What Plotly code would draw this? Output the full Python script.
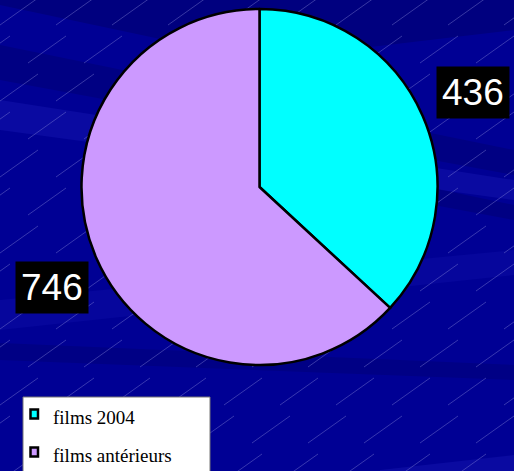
import plotly.graph_objects as go

categories = ["films 2004", "films antérieurs"]
values = [436, 746]
slice_colors = ["#00FFFF", "#CC99FF"]

W, H = 514, 471

fig = go.Figure()
fig.add_trace(go.Pie(
    labels=categories,
    values=values,
    sort=False,
    direction="clockwise",
    rotation=0,
    textinfo="none",
    hoverinfo="label+value",
    marker=dict(colors=slice_colors, line=dict(color="black", width=2.5)),
    domain=dict(x=[81 / W, 438 / W], y=[1 - 365 / H, 1 - 9 / H]),
    showlegend=False,
))

# value labels (black boxes, white text)
label_pos = [(472.5, 93), (51.5, 287.5)]
for v, (x, y) in zip(values, label_pos):
    fig.add_annotation(
        x=x / W, y=1 - y / H, xref="paper", yref="paper",
        xanchor="center", yanchor="middle",
        text=str(v), showarrow=False,
        font=dict(family="Liberation Sans, Arial", size=37, color="white"),
        bgcolor="black", borderpad=5,
    )

# ---- decorative background bands ----
bands = [
    ("M0,0 L514,0 L514,30 L260,60 L0,5 Z", "rgba(0,0,110,0.55)"),
    ("M0,45 L514,150 L514,175 L0,80 Z", "rgba(0,0,110,0.45)"),
    ("M0,100 L514,180 L514,200 L0,130 Z", "rgba(40,40,200,0.25)"),
    ("M300,160 L514,205 L514,220 L300,180 Z", "rgba(0,0,110,0.45)"),
    ("M0,300 L514,250 L514,275 L0,330 Z", "rgba(40,40,200,0.15)"),
    ("M0,343 L514,365 L514,380 L0,360 Z", "rgba(0,0,110,0.4)"),
    ("M380,470 L514,455 L514,471 L380,471 Z", "rgba(40,40,200,0.25)"),
]
for path, col in bands:
    fig.add_shape(type="path", path=path, xref="x", yref="y",
                  fillcolor=col, line=dict(width=0), layer="below")

# faint diagonal dashes
for r in range(0, 13):
    y0 = 25 + r * 38
    off = (r % 2) * 28
    for c in range(-1, 10):
        x0 = c * 56 + off
        fig.add_shape(type="line", x0=x0, y0=y0, x1=x0 + 38, y1=y0 - 27,
                      xref="x", yref="y",
                      line=dict(color="rgba(140,140,220,0.4)", width=1),
                      layer="below")

# ---- legend (drawn) ----
fig.add_shape(type="rect", x0=23, y0=397, x1=210, y1=480, xref="x", yref="y",
              fillcolor="white", line=dict(color="#777777", width=1))
legend_rows = [414, 452]
for name, col, yc in zip(categories, slice_colors, legend_rows):
    fig.add_shape(type="rect", x0=30.5, y0=yc - 4.5, x1=38, y1=yc + 4.5,
                  xref="x", yref="y", fillcolor=col,
                  line=dict(color="black", width=2.5))
    fig.add_annotation(
        x=51, y=yc + 3, xref="x", yref="y", xanchor="left", yanchor="middle",
        text=name, showarrow=False,
        font=dict(family="Liberation Serif, Times New Roman", size=19, color="black"),
    )

fig.update_layout(
    width=W, height=H,
    margin=dict(l=0, r=0, t=0, b=0),
    paper_bgcolor="#000094",
    plot_bgcolor="rgba(0,0,0,0)",
    xaxis=dict(range=[0, W], visible=False, fixedrange=True),
    yaxis=dict(range=[H, 0], visible=False, fixedrange=True),
    showlegend=False,
)

fig.write_html(
    "out.html",
    config={"displayModeBar": False},
    post_script="document.body.style.margin='0';document.body.style.overflow='hidden';",
)
